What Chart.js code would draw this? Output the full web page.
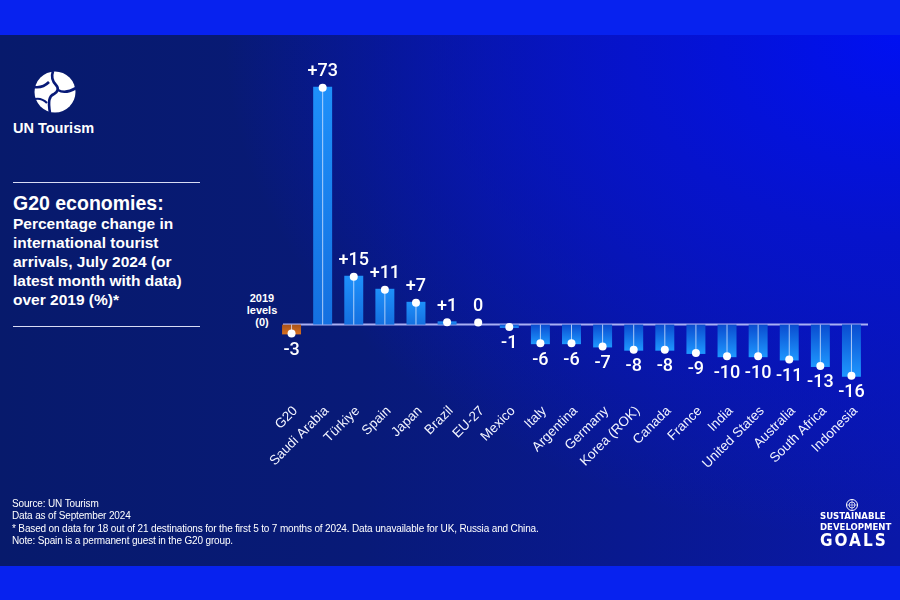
<!DOCTYPE html>
<html>
<head>
<meta charset="utf-8">
<title>G20 economies: international tourist arrivals vs 2019</title>
<script src="https://cdn.jsdelivr.net/npm/chart.js@4.4.1/dist/chart.umd.min.js"></script>
<style>
  html, body { margin: 0; padding: 0; }
  body {
    width: 900px; height: 600px; overflow: hidden; position: relative;
    background: #0722ef;
    font-family: "Liberation Sans", Arial, sans-serif;
    color: #fff;
  }
  #panel {
    position: absolute; left: 0; top: 35px; width: 900px; height: 531px;
    background:
      radial-gradient(ellipse 75% 95% at 100% 0%, #0010f2 0%, #0613cc 40%, rgba(8,22,140,0) 100%),
      linear-gradient(90deg, #071a6c 0%, #081a78 40%, #0a18a8 100%);
  }
  .abs { position: absolute; white-space: nowrap; }
  .brand { left: 13px; top: 120px; font-size: 14.5px; font-weight: bold; }
  .rule { position: absolute; left: 13px; width: 187px; height: 1px; background: #d8dcf4; }
  .title { left: 13px; top: 192px; font-size: 19.5px; font-weight: bold; }
  .sub { left: 13px; top: 214px; font-size: 15.5px; font-weight: bold; line-height: 19px; }
  .levels { left: 242px; top: 292px; width: 40px; text-align: center; font-size: 11px; font-weight: bold; line-height: 12px; }
  .notes { left: 12px; top: 498px; font-size: 10px; line-height: 12.3px; letter-spacing: -0.15px; }
  .sdg { left: 820px; top: 511px; font-family: "DejaVu Sans Condensed", "DejaVu Sans", sans-serif; font-weight: bold; text-align: left; }
  .sdg .s { font-size: 9.5px; line-height: 10.5px; letter-spacing: 0px; }
  .sdg .g { font-size: 17px; line-height: 17px; letter-spacing: 2px; }
  #wrap { position: absolute; left: 240px; top: 40px; width: 660px; height: 460px; }
</style>
</head>
<body>
<div id="panel"></div>

<svg class="abs" style="left:32px;top:69px" width="46" height="46" viewBox="0 0 46 46">
  <circle cx="23" cy="23" r="20.5" fill="#fff"/>
  <path d="M21 2 C19 8 20 12 24 16 C27 19 26 23 22 25 C17 27 16 32 18 44" stroke="#081a78" stroke-width="2.6" fill="none"/>
  <path d="M2 18 C8 19 13 17 17 13" stroke="#081a78" stroke-width="2.6" fill="none"/>
  <path d="M26 21 C31 24 37 23 44 19" stroke="#081a78" stroke-width="2.6" fill="none"/>
  <path d="M3 30 C8 29 12 31 15 34" stroke="#081a78" stroke-width="2.2" fill="none"/>
</svg>
<div class="abs brand">UN Tourism</div>

<div class="rule" style="top:182px"></div>
<div class="abs title">G20 economies:</div>
<div class="abs sub">Percentage change in<br>international tourist<br>arrivals, July 2024 (or<br>latest month with data)<br>over 2019 (%)*</div>
<div class="rule" style="top:326px"></div>

<div class="abs levels">2019<br>levels<br>(0)</div>

<div id="wrap"><canvas id="chart"></canvas></div>

<div class="abs notes">Source: UN Tourism<br>Data as of September 2024<br>* Based on data for 18 out of 21 destinations for the first 5 to 7 months of 2024. Data unavailable for UK, Russia and China.<br>Note: Spain is a permanent guest in the G20 group.</div>

<svg class="abs" style="left:845px;top:498px" width="14" height="14" viewBox="0 0 14 14">
  <circle cx="7" cy="7" r="5.5" fill="none" stroke="#fff" stroke-width="1"/>
  <circle cx="7" cy="7" r="3" fill="none" stroke="#fff" stroke-width="0.8"/>
  <line x1="7" y1="1.5" x2="7" y2="12.5" stroke="#fff" stroke-width="0.6"/>
  <line x1="1.5" y1="7" x2="12.5" y2="7" stroke="#fff" stroke-width="0.6"/>
</svg>
<div class="abs sdg"><div class="s">SUSTAINABLE</div><div class="s">DEVELOPMENT</div><div class="g">GOALS</div></div>

<script>
const categories = ['G20', 'Saudi Arabia', 'Türkiye', 'Spain', 'Japan', 'Brazil', 'EU-27', 'Mexico',
  'Italy', 'Argentina', 'Germany', 'Korea (ROK)', 'Canada', 'France', 'India', 'United States',
  'Australia', 'South Africa', 'Indonesia'];
const changeVs2019 = [-3, 73, 15, 11, 7, 1, 0, -1, -6, -6, -7, -8, -8, -9, -10, -10, -11, -13, -16];
const highlighted = ['G20'];

function fmt(v) {
  return v > 0 ? '+' + v : String(v);
}

function barFill(ctx) {
  const chart = ctx.chart;
  const i = ctx.dataIndex;
  const v = changeVs2019[i];
  const hi = highlighted.includes(categories[i]);
  if (!chart.chartArea) return hi ? '#c8641c' : '#1a84f4';
  const y = chart.scales.y;
  const y0 = y.getPixelForValue(0);
  const y1 = y.getPixelForValue(v);
  if (y0 === y1) return hi ? '#c8641c' : '#1a84f4';
  const g = chart.ctx.createLinearGradient(0, y0, 0, y1);
  if (hi) {
    g.addColorStop(0, '#a8521a');
    g.addColorStop(1, '#d8711f');
  } else {
    g.addColorStop(0, v > 0 ? '#1470e0' : '#0a4cd0');
    g.addColorStop(1, v > 0 ? '#1e90fa' : '#1e98ff');
  }
  return g;
}

// zero line, centre lines, dots and value labels
const markers = {
  id: 'markers',
  beforeDatasetsDraw(chart) {
    const { ctx, chartArea } = chart;
    const y0 = chart.scales.y.getPixelForValue(0);
    ctx.save();
    ctx.strokeStyle = '#a9b0f4';
    ctx.lineWidth = 2;
    ctx.beginPath();
    ctx.moveTo(chartArea.left + 7, y0);
    ctx.lineTo(chartArea.right + 1, y0);
    ctx.stroke();
    ctx.restore();
  },
  afterDatasetsDraw(chart) {
    const { ctx } = chart;
    const meta = chart.getDatasetMeta(0);
    ctx.save();
    meta.data.forEach((bar, i) => {
      const v = changeVs2019[i];
      ctx.strokeStyle = 'rgba(225,235,255,0.75)';
      ctx.lineWidth = 1;
      ctx.beginPath();
      ctx.moveTo(bar.x, bar.base);
      ctx.lineTo(bar.x, bar.y);
      ctx.stroke();

      const dy = v > 0 ? bar.y + 1 : (v < 0 ? bar.y - 1 : bar.y - 2);
      ctx.fillStyle = '#fff';
      ctx.beginPath();
      ctx.arc(bar.x, dy, 4, 0, Math.PI * 2);
      ctx.fill();

      ctx.font = '500 18px Roboto, "Liberation Sans", Arial, sans-serif';
      ctx.textAlign = 'center';
      ctx.textBaseline = 'middle';
      const ly = v >= 0 ? dy - 16 : dy + 17;
      ctx.fillText(fmt(v), bar.x, ly);
    });
    ctx.restore();
  }
};

new Chart(document.getElementById('chart'), {
  type: 'bar',
  data: {
    labels: categories,
    datasets: [{
      data: changeVs2019,
      backgroundColor: barFill,
      borderWidth: 0,
      barPercentage: 0.61,
      categoryPercentage: 1
    }]
  },
  options: {
    responsive: true,
    maintainAspectRatio: false,
    animation: false,
    events: [],
    layout: { padding: { left: 36, right: 33, top: 24, bottom: 10 } },
    plugins: {
      legend: { display: false },
      tooltip: { enabled: false }
    },
    scales: {
      x: {
        grid: { display: false, drawTicks: false },
        border: { display: false },
        ticks: {
          color: '#f2f4ff',
          font: { family: '"Liberation Sans", Arial, sans-serif', size: 13.5 },
          maxRotation: 45,
          minRotation: 45,
          autoSkip: false,
          padding: 23,
          labelOffset: 4
        },
        afterFit(scale) { scale.height = 110; }
      },
      y: {
        display: false,
        min: -17,
        max: 80
      }
    }
  },
  plugins: [markers]
});
</script>
</body>
</html>
